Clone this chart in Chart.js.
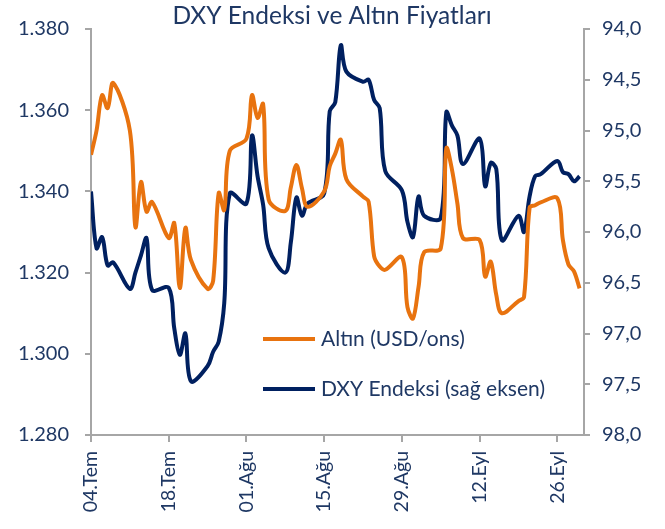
<!DOCTYPE html>
<html>
<head>
<meta charset="utf-8">
<script src="https://cdn.jsdelivr.net/npm/chart.js@4.4.1/dist/chart.umd.min.js"></script>
<style>
    html, body { margin: 0; padding: 0; background: #fff; }
    #wrap { width: 665px; height: 529px; position: relative; }
</style>
</head>
<body>
<div id="wrap"><canvas id="dxyChart"></canvas></div>
<script>
// Gold (USD/ons) and DXY index, business days 2016
const monthNames = ['Oca', 'Şub', 'Mar', 'Nis', 'May', 'Haz', 'Tem', 'Ağu', 'Eyl', 'Eki', 'Kas', 'Ara'];

const dates = [
    '04.07', '05.07', '06.07', '07.07', '08.07', '11.07', '12.07', '13.07', '14.07', '15.07',
    '18.07', '19.07', '20.07', '21.07', '22.07', '25.07', '26.07', '27.07', '28.07', '29.07',
    '01.08', '02.08', '03.08', '04.08', '05.08', '08.08', '09.08', '10.08', '11.08', '12.08',
    '15.08', '16.08', '17.08', '18.08', '19.08', '22.08', '23.08', '24.08', '25.08', '26.08',
    '29.08', '30.08', '31.08',
    '01.09', '02.09', '05.09', '06.09', '07.09', '08.09', '09.09', '12.09', '13.09', '14.09',
    '15.09', '16.09', '19.09', '20.09', '21.09', '22.09', '23.09', '26.09', '27.09', '28.09',
    '29.09', '30.09'
];

const altin = [
    1349, 1355, 1363.7, 1360.5, 1366.7, 1355, 1331.2, 1342.3, 1335, 1337.4,
    1328.5, 1332.2, 1316.2, 1331, 1323.1, 1316, 1318, 1339.6, 1335.4, 1350,
    1353, 1363.7, 1358.1, 1361.5, 1338, 1335.2, 1341, 1346.5, 1340.8, 1336.2,
    1340, 1346.2, 1349.3, 1352.7, 1343, 1338.7, 1337.5, 1324, 1321.5, 1320.7,
    1323.8, 1311.5, 1308.7,
    1316.5, 1325, 1326, 1350.6, 1345.5, 1337, 1328.5, 1328, 1319, 1322.7,
    1314.5, 1310, 1313, 1314, 1336, 1336.6, 1337.3, 1338.3, 1328, 1322,
    1320.3, 1316.1
];

const dxy = [
    95.60, 96.16, 96.05, 96.33, 96.30, 96.56, 96.40, 96.23, 96.06, 96.57,
    96.55, 96.95, 97.21, 97.00, 97.47, 97.32, 97.18, 97.08, 96.70, 95.62,
    95.72, 95.05, 95.45, 95.73, 96.16, 96.40, 96.10, 95.66, 95.84, 95.72,
    95.62, 94.81, 94.72, 94.16, 94.42, 94.52, 94.50, 94.70, 94.78, 95.40,
    95.59, 95.90, 96.05,
    95.65, 95.84, 95.86, 94.82, 94.95, 95.05, 95.33, 95.08, 95.55, 95.32,
    95.38, 96.08, 95.84, 96.00, 95.65, 95.45, 95.43, 95.30, 95.41, 95.43,
    95.50, 95.45
];

const xTickStep = 14;          // two weeks between date labels
const altinTicks = [1280, 1380, 20];
const dxyTicks = [94, 98, 0.5];

const startDate = Date.UTC(2016, 6, 4);
const DAY = 86400000;

function dayOffset(str) {
    const parts = str.split('.');
    return (Date.UTC(2016, parseInt(parts[1], 10) - 1, parseInt(parts[0], 10)) - startDate) / DAY;
}

function dateLabel(offset) {
    const d = new Date(startDate + offset * DAY);
    const dd = String(d.getUTCDate()).padStart(2, '0');
    return dd + '.' + monthNames[d.getUTCMonth()];
}

const navyText = '#1F3864';
const axisGray = '#A6A6A6';
const orange = '#E8730F';
const navy = '#002060';
const font = 'Lato';

const altinPoints = dates.map((d, i) => ({ x: dayOffset(d), y: altin[i] }));
const dxyPoints = dates.map((d, i) => ({ x: dayOffset(d), y: dxy[i] }));

// title and in-plot legend
const overlayPlugin = {
    id: 'overlay',
    afterDraw(chart) {
        const ctx = chart.ctx;
        ctx.save();
        ctx.fillStyle = navyText;
        ctx.textBaseline = 'middle';
        ctx.font = '24.5px ' + font;
        ctx.textAlign = 'center';
        ctx.fillText('DXY Endeksi ve Altın Fiyatları', 332, 16);

        const items = [
            { text: 'Altın (USD/ons)', color: orange, y: 339 },
            { text: 'DXY Endeksi (sağ eksen)', color: navy, y: 389 }
        ];
        ctx.font = '21px ' + font;
        ctx.textAlign = 'left';
        items.forEach(item => {
            ctx.strokeStyle = item.color;
            ctx.lineWidth = 4;
            ctx.beginPath();
            ctx.moveTo(263, item.y);
            ctx.lineTo(315, item.y);
            ctx.stroke();
            ctx.fillStyle = navyText;
            ctx.fillText(item.text, 321, item.y);
        });
        ctx.restore();
    }
};

new Chart(document.getElementById('dxyChart'), {
    type: 'line',
    data: {
        datasets: [
            {
                label: 'Altın (USD/ons)',
                data: altinPoints,
                yAxisID: 'y',
                borderColor: orange,
                borderWidth: 4,
                pointRadius: 0,
                tension: 0.35,
                fill: false
            },
            {
                label: 'DXY Endeksi (sağ eksen)',
                data: dxyPoints,
                yAxisID: 'y1',
                borderColor: navy,
                borderWidth: 4,
                pointRadius: 0,
                tension: 0.35,
                fill: false
            }
        ]
    },
    options: {
        responsive: true,
        maintainAspectRatio: false,
        animation: false,
        layout: { padding: { top: 29, left: 0, right: 0, bottom: 0 } },
        plugins: {
            legend: { display: false },
            title: { display: false },
            tooltip: { enabled: false }
        },
        scales: {
            x: {
                type: 'linear',
                min: 0,
                max: 88.8,
                afterFit: scale => { scale.height = 94; },
                border: { display: true, color: axisGray, width: 2 },
                grid: {
                    drawOnChartArea: false,
                    drawTicks: true,
                    tickLength: 7,
                    color: axisGray,
                    lineWidth: 2
                },
                ticks: {
                    stepSize: xTickStep,
                    includeBounds: false,
                    minRotation: 90,
                    maxRotation: 90,
                    padding: 9,
                    color: navyText,
                    font: { family: font, size: 19.5 },
                    callback: value => dateLabel(value)
                }
            },
            y: {
                position: 'left',
                min: altinTicks[0],
                max: altinTicks[1],
                afterFit: scale => { scale.width = 91; },
                border: { display: true, color: axisGray, width: 2 },
                grid: {
                    drawOnChartArea: false,
                    drawTicks: true,
                    tickLength: 6,
                    color: axisGray,
                    lineWidth: 2
                },
                ticks: {
                    stepSize: altinTicks[2],
                    padding: 16,
                    color: navyText,
                    font: { family: font, size: 20 },
                    callback: value => (value / 1000).toFixed(3)
                }
            },
            y1: {
                position: 'right',
                reverse: true,
                min: dxyTicks[0],
                max: dxyTicks[1],
                afterFit: scale => { scale.width = 81; },
                border: { display: true, color: axisGray, width: 2 },
                grid: {
                    drawOnChartArea: false,
                    drawTicks: true,
                    tickLength: 6,
                    color: axisGray,
                    lineWidth: 2
                },
                ticks: {
                    stepSize: dxyTicks[2],
                    padding: 12,
                    color: navyText,
                    font: { family: font, size: 20 },
                    callback: value => value.toFixed(1).replace('.', ',')
                }
            }
        }
    },
    plugins: [overlayPlugin]
});
</script>
</body>
</html>
